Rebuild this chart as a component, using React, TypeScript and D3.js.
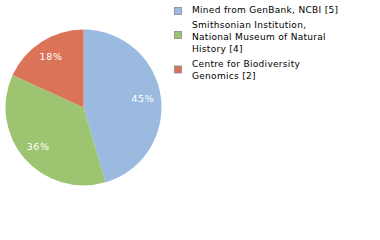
import React from "react";
import * as d3 from "d3";

const sources = ["Mined from GenBank, NCBI", "Smithsonian Institution, National Museum of Natural History", "Centre for Biodiversity Genomics"];
const counts = [5, 4, 2];
const colors = ["#9bbae0", "#9dc571", "#db7359"];
// legend lines as wrapped in the picture
const legendLines = [
  ["Mined from GenBank, NCBI [5]"],
  ["Smithsonian Institution,", "National Museum of Natural", "History [4]"],
  ["Centre for Biodiversity", "Genomics [2]"],
];

const App = () => {
  const width = 380;
  const height = 240;
  const cx = 83.5;
  const cy = 107.5;
  const r = 78;

  const total = d3.sum(counts);
  const pie = d3.pie<number>().sort(null).value(d => d);
  const arcs = pie(counts);
  const arc = d3.arc<d3.PieArcDatum<number>>().innerRadius(0).outerRadius(r);
  const labelArc = d3.arc<d3.PieArcDatum<number>>().innerRadius(60).outerRadius(60);

  // legend block baselines and swatch tops
  const lineH = 12;
  const blockTops = [12.5, 27.5, 66.5];
  const swatchTops = [7, 31, 65.5];

  return (
    <svg width={width} height={height} style={{ position: "absolute", left: 0, top: 0 }}
      fontFamily="DejaVu Sans, sans-serif">
      <g transform={`translate(${cx},${cy})`}>
        {arcs.map((a, i) => (
          <path key={i} d={arc(a) || ""} fill={colors[i]} stroke="none" />
        ))}
        {arcs.map((a, i) => {
          const [x, y] = labelArc.centroid(a);
          return (
            <text key={i} x={x} y={y} dy="0.35em" textAnchor="middle" fill="#fff"
              fontSize={9.5} letterSpacing={0.6}>
              {Math.round((counts[i] / total) * 100)}%
            </text>
          );
        })}
      </g>
      {sources.map((s, i) => {
        const lines = legendLines[i];
        const top = blockTops[i];
        return (
          <g key={s}>
            <rect x={174.5} y={swatchTops[i] + 0.5} width={7} height={7} fill={colors[i]} stroke="#888" strokeWidth={0.8} />
            <text x={192} y={top} fontSize={9} fill="#000" letterSpacing={0.3}>
              {lines.map((l, j) => (
                <tspan key={j} x={192} y={top + j * lineH}>{l}</tspan>
              ))}
            </text>
          </g>
        );
      })}
    </svg>
  );
};

export default App;
